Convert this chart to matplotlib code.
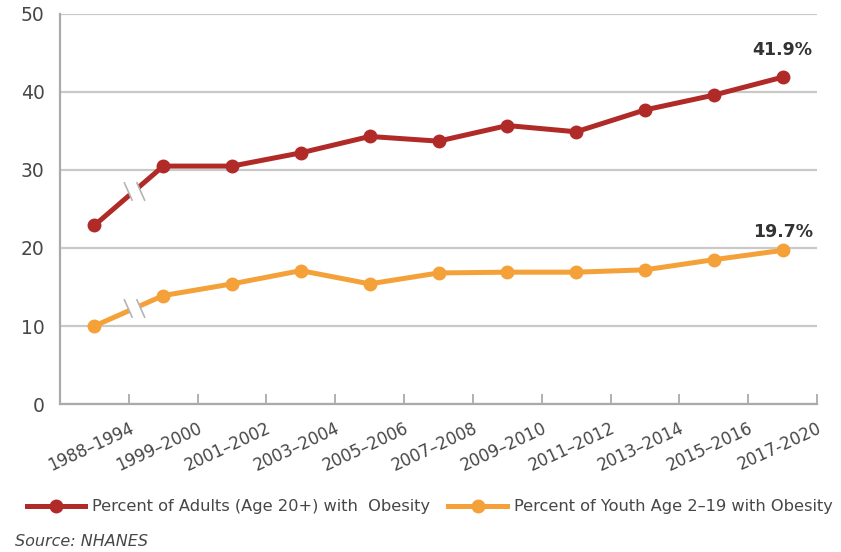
import numpy as np
import matplotlib.pyplot as plt
from matplotlib.path import Path

periods = ['1988–1994', '1999–2000', '2001–2002', '2003–2004', '2005–2006',
           '2007–2008', '2009–2010', '2011–2012', '2013–2014', '2015–2016',
           '2017-2020']
adults = [22.9, 30.5, 30.5, 32.2, 34.3, 33.7, 35.7, 34.9, 37.7, 39.6, 41.9]
youth = [10.0, 13.9, 15.4, 17.1, 15.4, 16.8, 16.9, 16.9, 17.2, 18.5, 19.7]

red = '#b02a28'
orange = '#f5a139'
grey = '#c9c9c9'
txt = '#474747'

plt.rcParams['font.family'] = ['DejaVu Sans']

fig = plt.figure(figsize=(8.41, 5.52), dpi=100)
ax = fig.add_axes([60/841, 148/552, 757/841, 390/552])

x = np.arange(len(periods))
ax.plot(x, adults, '-o', color=red, lw=3.6, ms=9, zorder=3,
        label='Percent of Adults (Age 20+) with  Obesity')
ax.plot(x, youth, '-o', color=orange, lw=3.6, ms=9, zorder=3,
        label='Percent of Youth Age 2–19 with Obesity')

# axis break marks on the first segment (gap between survey periods)
a, h, g = 0.4, 0.9, 0.6
gap = Path([(-g - a, h), (g - a, h), (g + a, -h), (-g + a, -h), (-g - a, h)],
           [Path.MOVETO, Path.LINETO, Path.LINETO, Path.LINETO, Path.CLOSEPOLY])
slashes = Path([(-g - a, h), (-g + a, -h), (g - a, h), (g + a, -h)],
               [Path.MOVETO, Path.LINETO, Path.MOVETO, Path.LINETO])
t = 0.58
for s in (adults, youth):
    yb = s[0] + t * (s[1] - s[0])
    ax.plot([t], [yb], marker=gap, ms=15, mfc='white', mec='none', zorder=4)
    ax.plot([t], [yb], marker=slashes, ms=15, mec='#b4b4b4', mew=1.2, zorder=5)

ax.annotate('41.9%', (x[-1], adults[-1]), xytext=(0, 13), textcoords='offset points',
            ha='center', va='bottom', fontsize=12.5, fontweight='bold', color='#333333')
ax.annotate('19.7%', (x[-1], youth[-1]), xytext=(0, 7), textcoords='offset points',
            ha='center', va='bottom', fontsize=12.5, fontweight='bold', color='#333333')

ax.set_xlim(-0.5, 10.5)
ax.set_ylim(0, 50)
ax.set_yticks([0, 10, 20, 30, 40, 50])
ax.grid(axis='y', color=grey, lw=1.6)
ax.set_axisbelow(True)
ax.tick_params(axis='y', length=0, pad=11, labelsize=13.5, labelcolor=txt)

ax.set_xticks(x + 0.5)
ax.set_xticklabels(periods, rotation=25, ha='right', rotation_mode='anchor')
ax.tick_params(axis='x', direction='in', length=7, width=1.3, color='#aaaaaa',
               labelsize=12, labelcolor=txt, pad=11)

for side in ('top', 'right'):
    ax.spines[side].set_visible(False)
for side in ('left', 'bottom'):
    ax.spines[side].set_color('#aaaaaa')
    ax.spines[side].set_linewidth(1.6)

leg = fig.legend(loc='center left', bbox_to_anchor=(12/841, 1 - 507/552), ncol=2,
                 frameon=False, fontsize=11.7, handlelength=3.6, handletextpad=0.45,
                 columnspacing=1.1, labelcolor=txt)

fig.text(15/841, 1 - 541/552, 'Source: NHANES', style='italic', fontsize=11.5,
         color=txt, va='center')

fig.savefig('out.png', dpi=100)
